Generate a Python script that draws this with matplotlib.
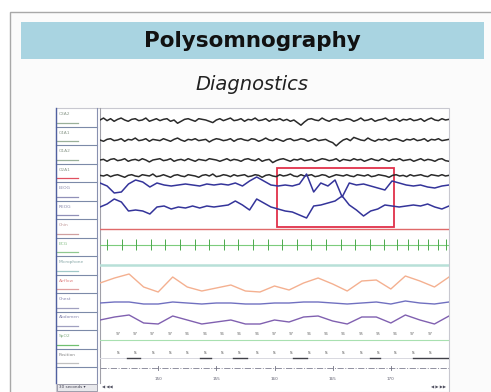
import numpy as np
import matplotlib
matplotlib.use("Agg")
import matplotlib.pyplot as plt
from matplotlib.patches import Rectangle

# ---------------- data ----------------
title = "Polysomnography"
subtitle = "Diagnostics"
channel_labels = ["C3A2", "C4A1", "O1A2", "O2A1", "LEOG", "REOG", "Chin", "ECG",
                  "Microphone", "Airflow", "Chest", "Abdomen", "SpO2", "Position"]

c3a2 = [0, 1.5, -0.5, 1, -1, 0.5, 1.5, 0, -1, 0.5,
        1, -0.5, 0, 1.5, -1, 0, 1, -0.5, 0.5, 1,
        -1, 0, -2.5, -1, 0.5, 1, 0, -1, 1, 0.5,
        0, -1, -2, 0, 1, -0.5, 0.5, 1.5, -0.5, 0,
        1, -1, 0.5, 0, 1.5, -0.5, 0, 1, -1, 0.5,
        0, 1, -0.5, 0.5, -1, 0, -2, -4, -1.5, 0.5,
        1, 0, -0.5, 1.5, 0, -1, 0.5, 1, -0.5, 0,
        1, 0.5, -1, 0, 1.5, -0.5, 0, 1, -1, 0,
        0.5, 1.5, -0.5, 0, 1, -1, 0.5, 0, 1, -0.5,
        0, 1, -1, 0.5, 1.5, 0, -0.5, 1, 0, 0.5]
c4a1 = [0, -1, 0.5, 1, -0.5, 0, 1, -1, 0.5, 0,
        1.5, -0.5, 0, 1, -1, 0.5, 0, -0.5, 1, 0,
        -1, 0.5, 1.5, 0, -1, 0.5, 0, 1, -0.5, 0,
        0.5, -1.5, 0, 1, 0.5, -0.5, 0, 1, -1, 0.5,
        1, 0, -0.5, 1, 0.5, -1, 0, 1.5, 0, -0.5,
        1, 0, -1, 0.5, 1, -0.5, 0, 1, 0.5, -1,
        0, 1, -0.5, 0, 0.5, -1, -2, -4.5, -2, 0,
        1, -0.5, 2, 1, 0, -0.5, 1.5, 0, -1, 0.5,
        0, 1, -0.5, 0.5, 1, 0, -1, 0.5, 0, 1,
        -0.5, 0, 1, -1, 0.5, 0, 1, -0.5, 0, 0.5]
o1a2 = [0, 0.5, -1, 0.5, 1, -0.5, 0, 1, -1, 0,
        0.5, -0.5, 1, 0, -1.5, 0, 0.5, 1, -0.5, 0,
        1, -1, 0, 0.5, -0.5, 1, 0, -1, 0.5, 0,
        -0.5, 1, 0.5, 0, -1, 0, 1, -0.5, 0.5, 0,
        -1, 0.5, 1, 0, -0.5, 1, -1, 0, 0.5, -2,
        -0.5, 0.5, 1, 0, -1, 0.5, 0, 1, -0.5, 0,
        0.5, -1, 0, 1, 0.5, -0.5, 0, 1, -1, 0.5,
        0, -0.5, 1, 0, 0.5, -1, 0, 1, 0, -0.5,
        1, 0, -1, 0.5, 0, 1, -0.5, 0, 0.5, -1,
        0, 1, -0.5, 0.5, 0, -1, 0.5, 1, -0.5, -1]
o2a1 = [0.5, 0, 1, -0.5, 0.5, 1, 0, -1, 0.5, 1,
        0, -0.5, 1, 0.5, 0, 1.5, -0.5, 0, 1, 0,
        -1, 0.5, 1, 0, -0.5, 1, 0.5, 0, -1, 0.5,
        1, 0, 1.5, -0.5, 0, 1, 0.5, -0.5, 1, 0,
        0.5, 1, -0.5, 0, 1, 0.5, -1, 0.5, 1, 0,
        -0.5, 1, 0, 0.5, 1.5, 0, -0.5, 1, 0, 0.5,
        1, -0.5, 0, 1, 0.5, -1, 0, 1, 0.5, 0,
        1, 0, -0.5, 1, 0.5, 0, 1, -0.5, 0, 1,
        0.5, 0, -1, 0.5, 1, 0, 0.5, -0.5, 1, 0,
        0.5, 1, 0, -0.5, 1, 0.5, 0, 1, 0, 0.5]
leog = [2, -1, -8, -7, 1, 5, 3, -2, 2, 0, -1, 0, 1, 0, -1, 1, 0, 1, 0, 2,
        -1, 4, 8, 4, 0, -1, 0, -1, 1, 11, -7, 2, -1, 5, -12, 2, 0, 1, -1, -3,
        -5, 4, 2, 0, -1, 0, -2, -3, -1, 0]
reog = [0, 3, 8, 5, -4, -3, -4, -7, 0, 1, -2, 0, -1, 1, -1, 1, 0, 1, 2, 6,
        2, -3, 8, 4, 0, -2, -4, -5, -8, -11, 1, 2, 4, 6, 11, 2, -3, -9, -4, -2,
        2, 1, 0, 1, 2, 1, 3, 0, -2, 1]
chin = [0, 0, 0, 0, 0, 0]
ecg_beats = [0.60, 1.86, 3.11, 4.37, 5.62, 6.88, 8.13, 9.39, 10.64, 11.90, 13.15, 14.41,
             15.66, 16.92, 18.17, 19.43, 20.68, 21.94, 23.19, 24.45, 25.53, 26.48, 27.34,
             28.19, 29.05, 29.74]
microphone = [0, 0, 0, 0, 0, 0]
airflow = [0, 5, 9, -4, -9, 6, -4, -8, -5, -2, -8, -9, -3, -7, 0, 5, -1, -8, 2, 3,
           -6, 7, 2, -4, 6]
chest = [0, 1, 1, -1, -1, 1, 0, -1, 0, 0, -1, -1, 0, 0, 1, 1, 0, -1, 0, 1,
         -1, 2, 0, -1, 1]
abdomen = [0, 3, 5, -3, -4, 4, 0, -4, -2, 0, -4, -4, 0, -2, 3, 4, -1, -4, 3, 3,
           -3, 5, 0, -4, 4]
spo2 = ["97", "97", "97", "97", "96", "96", "96", "96", "96", "97", "97", "96", "96",
        "96", "95", "95", "96", "97", "97"]
position = ["S", "S", "S", "S", "S", "S", "S", "S", "S", "S", "S", "S", "S", "S",
            "S", "S", "S", "S", "S"]
events = [(2.3, 3.4), (8.6, 9.5), (11.4, 12.6), (16.6, 17.8), (23.2, 24.1), (26.9, 30.0)]
tick_times = [5, 10, 15, 20, 25]
tick_labels = ["150", "155", "160", "165", "170"]
highlight = (15.2, 25.3)

# ---------------- layout ----------------
W, H = 491, 392
fig = plt.figure(figsize=(W / 100, H / 100), dpi=100)
bg = fig.add_axes([0, 0, 1, 1])
bg.set_xlim(0, W)
bg.set_ylim(H, 0)
bg.axis("off")

# infobox frame
bg.add_patch(Rectangle((10, 12), 490, 400, facecolor="#fbfbfb", edgecolor="#a8a8a8", lw=1))
bg.add_patch(Rectangle((21, 22), 463, 37, facecolor="#a9d4e1", edgecolor="none"))
bg.text(252, 41, title, ha="center", va="center", fontsize=15.5, fontweight="bold",
        color="#111111", family="DejaVu Sans")
bg.text(252, 84, subtitle, ha="center", va="center", fontsize=14, style="italic",
        color="#222222", family="DejaVu Sans")

# image panel
PX0, PX1, PY0, PY1 = 56, 449, 108, 392
bg.add_patch(Rectangle((PX0, PY0), PX1 - PX0, PY1 - PY0, facecolor="#ffffff",
                       edgecolor="#c8c8d0", lw=0.8))
# label column
LX0, LX1 = 56, 97
box_top, box_h = 108, 18.5
label_colors = ["#8c9a8c", "#8c9a8c", "#8c9a8c", "#8c9a8c", "#8888aa", "#8888aa",
                "#c09898", "#88c088", "#88a8a8", "#e08888", "#8888b0", "#8888b0",
                "#88b088", "#888888"]
under_colors = ["#9ab09a", "#9ab09a", "#9ab09a", "#e05060", "#9090b8", "#9090b8",
                "#d0a0a0", "#90c890", "#a0c8c8", "#e0a0a0", "#a0a0c0", "#a0a0c0",
                "#70c070", "#c0c0c0"]
for i, lab in enumerate(channel_labels):
    y0 = box_top + i * box_h
    bg.plot([LX0, LX1], [y0 + box_h, y0 + box_h], color="#7c8aa8", lw=0.8)
    bg.text(LX0 + 3, y0 + 6, lab, fontsize=3.2, color=label_colors[i], va="center")
    bg.plot([LX0 + 1, LX0 + 22], [y0 + 14.5, y0 + 14.5], color=under_colors[i], lw=0.9)
bg.plot([LX0, LX0], [PY0, 383], color="#5060a0", lw=1.0)
bg.plot([LX1, LX1], [PY0, 383], color="#8890b0", lw=0.8)
bg.plot([100, 100], [PY0, 383], color="#a0a0a8", lw=0.8)
# bottom controls
bg.add_patch(Rectangle((57, 384), 40, 7, facecolor="#e8e8ec", edgecolor="#9090a0", lw=0.6))
bg.text(59, 387.5, "30 seconds \u25be", fontsize=3, color="#404050", va="center")
bg.text(102, 387.5, "\u25c0 \u25c0\u25c0", fontsize=3, color="#505060", va="center")
bg.text(446, 387.5, "\u25c0 \u25b6 \u25b6\u25b6", fontsize=3, color="#505060", va="center",
        ha="right")

# signal axes: time (s) horizontally, pixel rows vertically
ax = fig.add_axes([100 / W, (H - 383) / H, (449 - 100) / W, (383 - 108) / H])
ax.set_xlim(0, 30)
ax.set_ylim(383, 108)
ax.axis("off")


def trace(vals, base, gain, color, lw):
    v = np.asarray(vals, dtype=float)
    t = np.linspace(0, 30, len(v))
    ax.plot(t, base - gain * v, color=color, lw=lw, solid_joinstyle="round")


trace(c3a2, 120, 1.3, "#2a2a2a", 1.1)
trace(c4a1, 140, 1.3, "#2a2a2a", 1.1)
trace(o1a2, 160, 1.3, "#2a2a2a", 1.1)
trace(o2a1, 176, 1.3, "#2a2a2a", 1.1)
trace(leog, 185, 1.0, "#34349a", 1.1)
trace(reog, 207, 1.0, "#34349a", 1.1)
trace(chin, 229, 1.0, "#e06a6a", 1.0)
# ECG
ax.plot([0, 30], [245, 245], color="#7ccc7c", lw=0.8)
ax.vlines(ecg_beats, 239, 250, color="#4caa4c", lw=0.7)
trace(microphone, 265, 1.0, "#b8e0d8", 1.8)
trace(airflow, 283, 1.0, "#f4b090", 1.0)
trace(chest, 303, 1.0, "#7070c0", 1.0)
trace(abdomen, 320, 1.0, "#8060b0", 1.0)
# SpO2 row
for k, s in enumerate(spo2):
    ax.text(1.55 + 1.49 * k, 334, s, fontsize=2.8, color="#707070", ha="center", va="center")
ax.plot([0, 30], [340, 340], color="#a8e0b0", lw=0.8)
# position row
for k, s in enumerate(position):
    ax.text(1.55 + 1.49 * k, 353, s, fontsize=3, color="#404040", ha="center", va="center")
ax.plot([0, 30], [358, 358], color="#d8d8e0", lw=0.7)
for a, b in events:
    ax.plot([a, b], [358, 358], color="#404048", lw=1.0)
# time axis
ax.plot([0, 30], [368, 368], color="#9090a0", lw=0.7, ls="-.")
for tt, tl in zip(tick_times, tick_labels):
    ax.plot([tt, tt], [366, 370], color="#707080", lw=0.6)
    ax.text(tt, 379, tl, fontsize=3, color="#606070", ha="center", va="center")
# highlighted arousal box
ax.add_patch(Rectangle((highlight[0], 168), highlight[1] - highlight[0], 59,
                       facecolor="none", edgecolor="#e0304a", lw=1.3))

fig.savefig("out.png", dpi=100)
